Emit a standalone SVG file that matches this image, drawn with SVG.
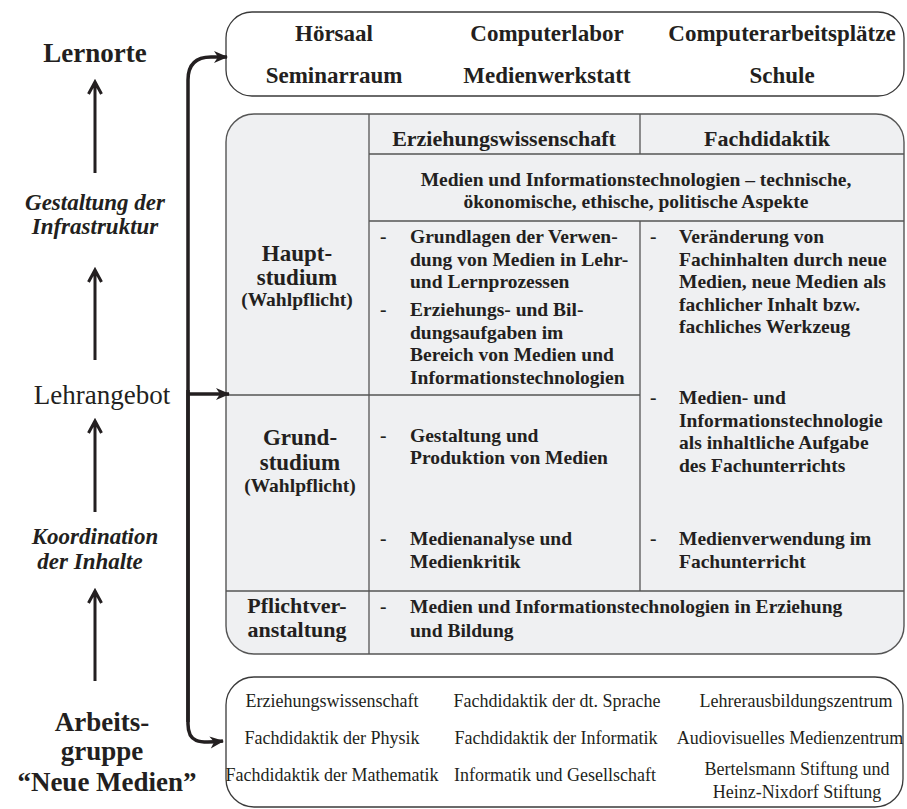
<svg xmlns="http://www.w3.org/2000/svg" width="907" height="809" viewBox="0 0 907 809">
<defs>
<style>
text{font-family:"Liberation Serif","Times New Roman",serif;fill:#231f20}
.b{font-weight:bold}
.i{font-style:italic;font-weight:bold}
.c{text-anchor:middle}
.t23{font-size:23px}
.t22{font-size:22px}
.t27{font-size:27px}
.t19{font-size:19.5px}
.t18{font-size:18px}
.box{fill:#ffffff;stroke:#3a3a3a;stroke-width:1.3}
.tbl{fill:#eff0f2;stroke:#555;stroke-width:1.4}
.grid{stroke:#555;stroke-width:1.3;fill:none}
.conn{fill:none;stroke:#231f20;stroke-width:3.5}
.up{fill:none;stroke:#231f20;stroke-width:3}
</style>
<marker id="ah" markerUnits="userSpaceOnUse" markerWidth="16" markerHeight="16" viewBox="0 0 16 16" refX="14" refY="8" orient="auto">
<path d="M1,2 L15,8 L1,14 L5,8 z" fill="#231f20"/>
</marker>
</defs>

<g id="label-lernorte">
<text class="b c t27" x="95" y="62">Lernorte</text>
</g>
<g id="label-gestaltung">
<text class="i c t23" x="95" y="210">Gestaltung der</text>
<text class="i c t23" x="95" y="234">Infrastruktur</text>
</g>
<g id="label-lehrangebot">
<text class="c t27" x="102" y="404">Lehrangebot</text>
</g>
<g id="label-koordination">
<text class="i c t23" x="95" y="544">Koordination</text>
<text class="i c t23" x="90" y="569">der Inhalte</text>
</g>
<g id="label-arbeitsgruppe">
<text class="b c t27" x="102" y="731">Arbeits-</text>
<text class="b c t27" x="102" y="760">gruppe</text>
<text class="b c t27" x="107" y="791">“Neue Medien”</text>
</g>

<g id="lernorte-box">
<rect class="box" x="226" y="12" width="678" height="84" rx="26" ry="26"/>
<text class="b c t23" x="334" y="41">Hörsaal</text>
<text class="b c t23" x="334" y="83">Seminarraum</text>
<text class="b c t23" x="547" y="41">Computerlabor</text>
<text class="b c t23" x="547" y="83">Medienwerkstatt</text>
<text class="b c t23" x="782" y="41">Computerarbeitsplätze</text>
<text class="b c t23" x="782" y="83">Schule</text>
</g>

<g id="lehrangebot-table">
<rect class="tbl" x="226" y="114" width="678" height="540" rx="28" ry="28"/>
<path class="grid" d="M369,114 V654 M640,114 V154 M640,221 V591 M369,154 H904 M369,221 H904 M226,395 H640 M226,591 H904"/>
<text class="b c t22" x="504" y="146">Erziehungswissenschaft</text>
<text class="b c t22" x="767" y="146">Fachdidaktik</text>
<text class="b c t19" x="636" y="186">Medien und Informationstechnologien – technische,</text>
<text class="b c t19" x="636" y="208">ökonomische, ethische, politische Aspekte</text>

<text class="b c t23" x="297" y="261">Haupt-</text>
<text class="b c t23" x="297" y="285">studium</text>
<text class="b c t19" x="297" y="306">(Wahlpflicht)</text>
<text class="b c t23" x="300" y="445">Grund-</text>
<text class="b c t23" x="300" y="470">studium</text>
<text class="b c t19" x="300" y="492">(Wahlpflicht)</text>
<text class="b c t22" x="297" y="613">Pflichtver-</text>
<text class="b c t22" x="297" y="637">anstaltung</text>

<g class="b t19">
<text x="380" y="243">-</text>
<text x="410" y="243">Grundlagen der Verwen-</text>
<text x="410" y="265.5">dung von Medien in Lehr-</text>
<text x="410" y="288">und Lernprozessen</text>
<text x="380" y="316">-</text>
<text x="410" y="316">Erziehungs- und Bil-</text>
<text x="410" y="338.5">dungsaufgaben im</text>
<text x="410" y="361">Bereich von Medien und</text>
<text x="410" y="383.5">Informationstechnologien</text>
<text x="380" y="442">-</text>
<text x="410" y="442">Gestaltung und</text>
<text x="410" y="464">Produktion von Medien</text>
<text x="380" y="545">-</text>
<text x="410" y="545">Medienanalyse und</text>
<text x="410" y="568">Medienkritik</text>

<text x="650" y="243">-</text>
<text x="679" y="243">Veränderung von</text>
<text x="679" y="265.5">Fachinhalten durch neue</text>
<text x="679" y="288">Medien, neue Medien als</text>
<text x="679" y="310.5">fachlicher Inhalt bzw.</text>
<text x="679" y="333">fachliches Werkzeug</text>
<text x="650" y="404">-</text>
<text x="679" y="404">Medien- und</text>
<text x="679" y="427">Informationstechnologie</text>
<text x="679" y="449">als inhaltliche Aufgabe</text>
<text x="679" y="472">des Fachunterrichts</text>
<text x="650" y="545">-</text>
<text x="679" y="545">Medienverwendung im</text>
<text x="679" y="568">Fachunterricht</text>

<text x="380" y="613">-</text>
<text x="410" y="613">Medien und Informationstechnologien in Erziehung</text>
<text x="410" y="637">und Bildung</text>
</g>
</g>

<g id="arbeitsgruppe-box">
<rect class="box" x="226" y="677" width="677" height="130" rx="28" ry="28"/>
<g class="c t18">
<text x="332" y="707">Erziehungswissenschaft</text>
<text x="332" y="744">Fachdidaktik der Physik</text>
<text x="332" y="781">Fachdidaktik der Mathematik</text>
<text x="557" y="707">Fachdidaktik der dt. Sprache</text>
<text x="556" y="744">Fachdidaktik der Informatik</text>
<text x="555" y="781">Informatik und Gesellschaft</text>
<text x="796" y="707">Lehrerausbildungszentrum</text>
<text x="790" y="744">Audiovisuelles Medienzentrum</text>
<text x="797" y="775">Bertelsmann Stiftung und</text>
<text x="797" y="798">Heinz-Nixdorf Stiftung</text>
</g>
</g>

<g id="connectors">
<path class="conn" d="M188,722 V80 Q188,57 211,57 H227" marker-end="url(#ah)"/>
<path class="conn" d="M188,390 V724 C188,742 198,744 223,741" marker-end="url(#ah)"/>
<path class="conn" d="M188,394 H229" marker-end="url(#ah)"/>
<path class="up" d="M95,173 V83 M88.5,94 L95,82 L101.5,94"/>
<path class="up" d="M95,360 V271 M88.5,282 L95,270 L101.5,282"/>
<path class="up" d="M95,512 V422 M88.5,433 L95,421 L101.5,433"/>
<path class="up" d="M95,681 V592 M88.5,603 L95,591 L101.5,603"/>
</g>
</svg>
